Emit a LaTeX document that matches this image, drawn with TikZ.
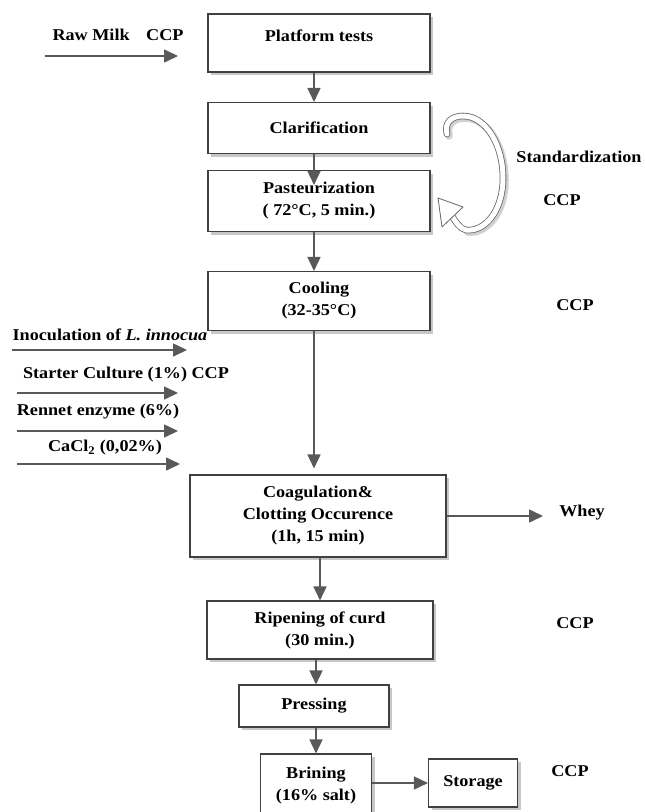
\documentclass[tikz,border=0pt]{standalone}
\usepackage{fontspec}
\setmainfont{Liberation Serif}[FakeStretch=1.1]
\usetikzlibrary{arrows.meta,shadows}
\begin{document}
\begin{tikzpicture}[x=1pt, y=-1pt,
        font=\fontsize{16.5}{22}\selectfont\bfseries,
        procbox/.style={draw=black!75, line width=1.1pt, fill=white, align=center, inner sep=2pt,
            drop shadow={shadow xshift=3pt, shadow yshift=-3pt, fill=black!22, opacity=1}},
        flow/.style={draw=black!65, line width=1.6pt, -{Triangle[length=14pt, width=13pt]}},
        hollow/.style={draw=black!60, line width=0.8pt}]
    \useasboundingbox (0,0) rectangle (645,812);

    \node[procbox, minimum width=222, minimum height=58, text height=21pt, text depth=25pt] (plat) at (319,43) {Platform tests};
    \node[procbox, minimum width=222, minimum height=51] (clar) at (319,128) {Clarification};
    \node[procbox, minimum width=222, minimum height=61] (past) at (319,201) {Pasteurization\\( 72°C, 5 min.)};
    \node[procbox, minimum width=222, minimum height=59] (cool) at (319,301) {Cooling\\(32-35°C)};
    \node[procbox, minimum width=256, minimum height=82] (coag) at (318,516) {Coagulation\&\\Clotting Occurence\\(1h, 15 min)};
    \node[procbox, minimum width=226, minimum height=58] (ripe) at (320,630) {Ripening of curd\\(30 min.)};
    \node[procbox, minimum width=150, minimum height=42] (press) at (314,706) {Pressing};
    \node[procbox, minimum width=111, minimum height=64] (brin) at (316,786) {Brining\\(16\% salt)};
    \node[procbox, minimum width=89, minimum height=48] (stor) at (473,783) {Storage};

    \node (stdz) at (579,157) {Standardization};
    \node (ccpa) at (562,200) {CCP};
    \node (ccpb) at (575,305) {CCP};
    \node (whey) at (582,513) {Whey};
    \node (ccpc) at (575,623) {CCP};
    \node (ccpd) at (570,771) {CCP};

    \node (milk) at (118,35) {Raw Milk\hspace{1em}CCP};
    \node (inoc) at (110,335) {Inoculation of \textit{L. innocua}};
    \node (start) at (126,375) {Starter Culture (1\%) CCP};
    \node (renn) at (98,412) {Rennet enzyme (6\%)};
    \node (cacl) at (105,448) {CaCl\textsubscript{2} (0,02\%)};

    \coordinate (milk0) at (45,56);
    \coordinate (milk1) at (178,56);
    \coordinate (inoc0) at (12,350);
    \coordinate (inoc1) at (187,350);
    \coordinate (start0) at (17,393);
    \coordinate (start1) at (178,393);
    \coordinate (renn0) at (17,431);
    \coordinate (renn1) at (178,431);
    \coordinate (cacl0) at (17,464);
    \coordinate (cacl1) at (180,464);
    \coordinate (wheyin) at (543,517);

    \draw[flow] (milk0) -- (milk1);
    \draw[flow] (inoc0) -- (inoc1);
    \draw[flow] (start0) -- (start1);
    \draw[flow] (renn0) -- (renn1);
    \draw[flow] (cacl0) -- (cacl1);

    \draw[flow] ([xshift=-5pt]plat.south) -- ([xshift=-5pt]clar.north);
    \draw[flow] ([xshift=-5pt]clar.south) -- ([xshift=-5pt, yshift=-15pt]past.north);
    \draw[flow] ([xshift=-5pt]past.south) -- ([xshift=-5pt]cool.north);
    \draw[flow] ([xshift=-5pt]cool.south) -- ([xshift=-4pt, yshift=6pt]coag.north);
    \draw[flow] (coag.east) -- (coag.east -| wheyin);
    \draw[flow] (coag.south -| ripe.north) -- (ripe.north);
    \draw[flow] (ripe.south -| brin.north) -- (press.north -| brin.north);
    \draw[flow] (press.south -| brin.north) -- (brin.north);
    \draw[flow] (brin.east |- stor.west) -- (stor.west);

    \draw[black!18, line width=7.5pt, line cap=round, shift={(2,2)}] (447,134) .. controls (444,122) and (452,116) .. (463,116) .. controls (486,116) and (503,145) .. (503,178) .. controls (503,211) and (485,232) .. (466,230);
    \draw[hollow, line cap=round, double=white, double distance=5pt] (447,134) .. controls (444,122) and (452,116) .. (463,116) .. controls (486,116) and (503,145) .. (503,178) .. controls (503,211) and (485,232) .. (466,230) .. controls (460,229) and (455,221) .. (452,216);
    \draw[hollow, fill=white, line join=round] (438,198) -- (463,207) -- (442,227) -- cycle;
\end{tikzpicture}
\end{document}
